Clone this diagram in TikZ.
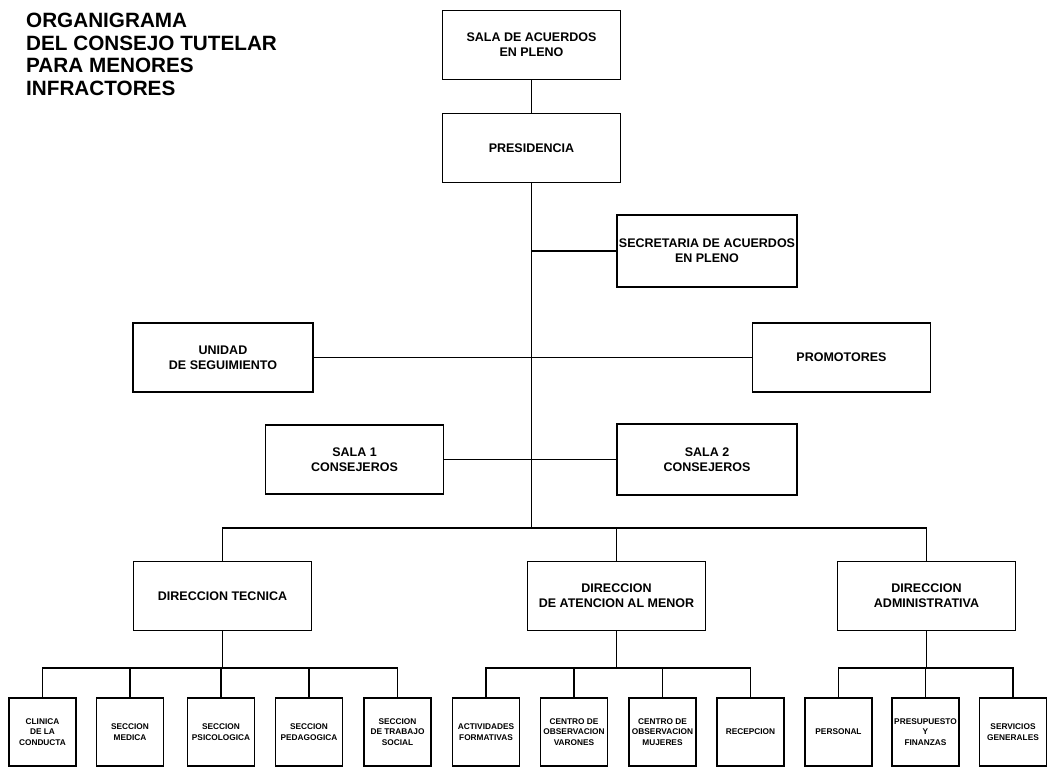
\documentclass[tikz,border=0pt]{standalone}
\usepackage{fontspec}
\setmainfont{Liberation Sans}
\usepackage{tikz}

\begin{document}
\begin{tikzpicture}[x=1pt, y=-1pt,
    caja/.style={draw, line width=1.6pt, align=center, inner sep=2pt,
        font=\bfseries\fontsize{12.5}{15}\selectfont,
        minimum width=178pt, minimum height=69pt},
    cajita/.style={draw, line width=1.6pt, align=center, inner sep=0.5pt,
        font=\bfseries\fontsize{8.3}{10.5}\selectfont,
        minimum width=67pt, minimum height=68pt},
    linea/.style={line width=1.2pt}]

    \useasboundingbox (0,0) rectangle (1047,768);

    \node[anchor=north west, align=left, inner sep=0pt,
        font=\bfseries\fontsize{20.7}{22.5}\selectfont] (titulo) at (26,13)
        {ORGANIGRAMA\\DEL CONSEJO TUTELAR\\PARA MENORES\\INFRACTORES};

    \node[caja] (sala) at (531.5,45) {SALA DE ACUERDOS\\EN PLENO};
    \node[caja] (pres) at (531.5,148) {PRESIDENCIA};
    \node[caja, minimum width=180pt, minimum height=72pt] (secr) at (707,251) {SECRETARIA DE ACUERDOS\\EN PLENO};
    \node[caja, minimum width=180pt] (unidad) at (223,357.5) {UNIDAD\\DE SEGUIMIENTO};
    \node[caja] (promo) at (841.5,357.5) {PROMOTORES};
    \node[caja] (sala1) at (354.5,459.5) {SALA 1\\CONSEJEROS};
    \node[caja, minimum width=180pt, minimum height=71pt] (sala2) at (707,459.5) {SALA 2\\CONSEJEROS};

    \node[caja] (dtec) at (222.5,596) {DIRECCION TECNICA};
    \node[caja] (date) at (616.5,596) {DIRECCION\\DE ATENCION AL MENOR};
    \node[caja] (dadm) at (926.5,596) {DIRECCION\\ADMINISTRATIVA};

    \node[cajita] (clinica) at (42.5,732) {CLINICA\\DE LA\\CONDUCTA};
    \node[cajita] (medica) at (130,732) {SECCION\\MEDICA};
    \node[cajita] (psico) at (221,732) {SECCION\\PSICOLOGICA};
    \node[cajita] (pedag) at (309,732) {SECCION\\PEDAGOGICA};
    \node[cajita] (trabajo) at (397.5,732) {SECCION\\DE TRABAJO\\SOCIAL};
    \node[cajita] (activ) at (486,732) {ACTIVIDADES\\FORMATIVAS};
    \node[cajita] (varones) at (574,732) {CENTRO DE\\OBSERVACION\\VARONES};
    \node[cajita] (mujeres) at (662.5,732) {CENTRO DE\\OBSERVACION\\MUJERES};
    \node[cajita] (recep) at (750.5,732) {RECEPCION};
    \node[cajita] (personal) at (838.5,732) {PERSONAL};
    \node[cajita] (presup) at (925.5,732) {PRESUPUESTO\\Y\\FINANZAS};
    \node[cajita] (servicios) at (1013,732) {SERVICIOS\\GENERALES};

    \coordinate (bus) at (531.5,528);
    \coordinate (bustec) at (222.5,668);
    \coordinate (busate) at (616.5,668);
    \coordinate (busadm) at (926.5,668);

    \draw[linea] (sala) -- (pres);
    \draw[linea] (pres) -- (bus);
    \draw[linea] (secr.west) -- (secr.west -| pres.south);
    \draw[linea] (unidad.east) -- (promo.west);
    \draw[linea] (sala1.east) -- (sala2.west);

    \foreach \dir in {dtec, date, dadm}
        \draw[linea] (bus) -| (\dir.north);

    \draw[linea] (dtec) -- (bustec);
    \foreach \sec in {clinica, medica, psico, pedag, trabajo}
        \draw[linea] (bustec) -| (\sec.north);

    \draw[linea] (date) -- (busate);
    \foreach \sec in {activ, varones, mujeres, recep}
        \draw[linea] (busate) -| (\sec.north);

    \draw[linea] (dadm) -- (busadm);
    \foreach \sec in {personal, presup, servicios}
        \draw[linea] (busadm) -| (\sec.north);

\end{tikzpicture}
\end{document}
